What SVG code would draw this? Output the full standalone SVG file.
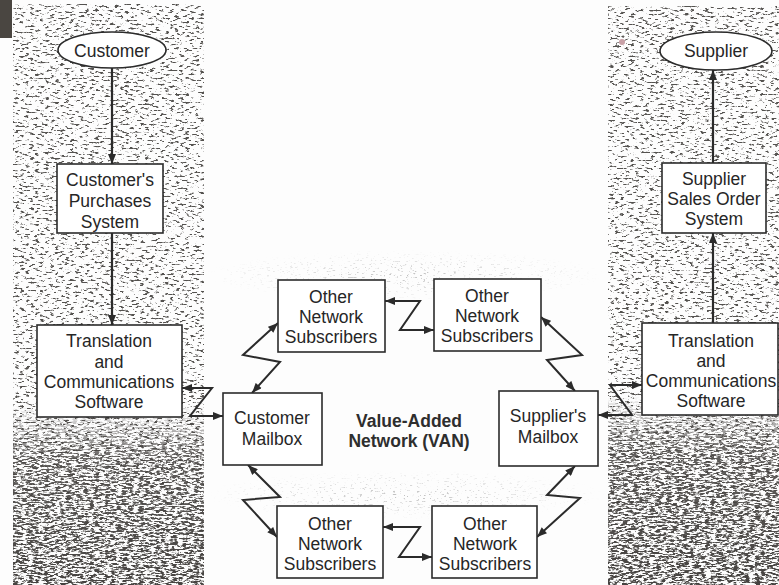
<svg xmlns="http://www.w3.org/2000/svg" width="779" height="585" viewBox="0 0 779 585">
  <defs>
    <style>
      .box { fill: #ffffff; stroke: #2b2b2b; stroke-width: 1.6; }
      .lbl { font-family: "Liberation Sans", Arial, sans-serif; font-size: 17.5px; fill: #262626; text-anchor: middle; }
      .van { font-family: "Liberation Sans", Arial, sans-serif; font-size: 17.5px; font-weight: bold; fill: #2e2e2e; text-anchor: middle; }
      .flow { fill: none; stroke: #2b2b2b; stroke-width: 2.2; marker-end: url(#head); }
      .link { fill: none; stroke: #2b2b2b; stroke-width: 2; stroke-linejoin: miter; marker-start: url(#head); marker-end: url(#head); }
    </style>
    <marker id="head" viewBox="0 0 10 8" refX="10" refY="4" markerWidth="11" markerHeight="8" markerUnits="userSpaceOnUse" orient="auto-start-reverse">
      <path d="M0,0 L10,4 L0,8 Z" fill="#2b2b2b"/>
    </marker>
    <!-- printed-paper speckle, light and heavy -->
    <filter id="grainLight" x="0" y="0" width="100%" height="100%" color-interpolation-filters="sRGB">
      <feTurbulence type="fractalNoise" baseFrequency="0.2 0.5" numOctaves="3" seed="7"/>
      <feColorMatrix type="matrix" values="0 0 0 0 0.33  0 0 0 0 0.32  0 0 0 0 0.31  -8 0 0 0 3.45"/>
      <feGaussianBlur stdDeviation="0.35"/>
    </filter>
    <filter id="grainDark" x="0" y="0" width="100%" height="100%" color-interpolation-filters="sRGB">
      <feTurbulence type="fractalNoise" baseFrequency="0.18 0.55" numOctaves="3" seed="11"/>
      <feColorMatrix type="matrix" values="0 0 0 0 0.27  0 0 0 0 0.26  0 0 0 0 0.25  -7 0 0 0 3.7"/>
      <feGaussianBlur stdDeviation="0.35"/>
    </filter>
    <filter id="grainFaint" x="0" y="0" width="100%" height="100%" color-interpolation-filters="sRGB">
      <feTurbulence type="fractalNoise" baseFrequency="0.3 0.7" numOctaves="2" seed="4"/>
      <feColorMatrix type="matrix" values="0 0 0 0 0.5  0 0 0 0 0.5  0 0 0 0 0.5  -8 0 0 0 3.0"/>
    </filter>
    <linearGradient id="fadeIn" x1="0" y1="0" x2="0" y2="1">
      <stop offset="0" stop-color="#fff" stop-opacity="0"/>
      <stop offset="0.3" stop-color="#fff" stop-opacity="0.85"/>
      <stop offset="1" stop-color="#fff" stop-opacity="1"/>
    </linearGradient>
    <radialGradient id="soft">
      <stop offset="0" stop-color="#fff" stop-opacity="1"/>
      <stop offset="1" stop-color="#fff" stop-opacity="0"/>
    </radialGradient>
    <mask id="leftLow" maskUnits="userSpaceOnUse" x="0" y="0" width="779" height="585">
      <rect x="13" y="405" width="191" height="180" fill="url(#fadeIn)"/>
    </mask>
    <mask id="rightLow" maskUnits="userSpaceOnUse" x="0" y="0" width="779" height="585">
      <rect x="608" y="395" width="171" height="190" fill="url(#fadeIn)"/>
    </mask>
    <mask id="midBands" maskUnits="userSpaceOnUse" x="0" y="0" width="779" height="585">
      <ellipse cx="405" cy="275" rx="200" ry="25" fill="url(#soft)"/>
      <ellipse cx="405" cy="495" rx="200" ry="25" fill="url(#soft)"/>
    </mask>
  </defs>

  <!-- paper -->
  <rect x="0" y="0" width="779" height="585" fill="#fdfdfd"/>

  <!-- shaded side columns -->
  <g id="shading">
    <rect x="0" y="0" width="12" height="38" fill="#4a4641"/>
    <rect x="13" y="4" width="191" height="581" fill="#fff" filter="url(#grainLight)"/>
    <rect x="13" y="405" width="191" height="180" fill="#fff" filter="url(#grainDark)" mask="url(#leftLow)"/>
    <rect x="608" y="6" width="171" height="579" fill="#fff" filter="url(#grainLight)"/>
    <rect x="608" y="395" width="171" height="190" fill="#fff" filter="url(#grainDark)" mask="url(#rightLow)"/>
    <rect x="205" y="245" width="400" height="280" fill="#fff" filter="url(#grainFaint)" mask="url(#midBands)" opacity="0.5"/>
    <circle cx="622" cy="42" r="3" fill="#c8a0a6"/>
  </g>

  <!-- connectors -->
  <g id="connectors">
    <path class="flow" d="M112,68 L112,164"/>
    <path class="flow" d="M112,233 L112,325"/>
    <path class="flow" d="M713,163 L713,70"/>
    <path class="flow" d="M713,323 L713,233"/>
    <path class="link" d="M182,388 L212,388 L190,416 L223,416"/>
    <path class="link" d="M252,393 L280,362 L243,355 L278,323"/>
    <path class="link" d="M385,301 L420,301 L400,330 L434,330"/>
    <path class="link" d="M541,317 L582,355 L547,360 L575,391"/>
    <path class="link" d="M598,415 L632,415 L610,385 L642,385"/>
    <path class="link" d="M248,465 L280,497 L243,500 L277,537"/>
    <path class="link" d="M383,527 L420,527 L399,557 L432,557"/>
    <path class="link" d="M537,537 L580,498 L547,495 L575,466"/>
  </g>

  <g id="customer">
    <ellipse class="box" cx="112" cy="50" rx="54" ry="18"/>
    <text class="lbl" x="112" y="57">Customer</text>
  </g>

  <g id="customer-purchases">
    <rect class="box" x="57" y="164" width="106" height="69"/>
    <text class="lbl" x="110" y="186">Customer's</text>
    <text class="lbl" x="110" y="207">Purchases</text>
    <text class="lbl" x="110" y="228">System</text>
  </g>

  <g id="customer-translation">
    <rect class="box" x="37" y="325" width="145" height="92"/>
    <text class="lbl" x="109" y="347">Translation</text>
    <text class="lbl" x="109" y="368">and</text>
    <text class="lbl" x="109" y="388">Communications</text>
    <text class="lbl" x="109" y="408">Software</text>
  </g>

  <g id="customer-mailbox">
    <rect class="box" x="223" y="393" width="99" height="72"/>
    <text class="lbl" x="272" y="424">Customer</text>
    <text class="lbl" x="272" y="445">Mailbox</text>
  </g>

  <g id="van-label">
    <text class="van" x="409" y="427">Value-Added</text>
    <text class="van" x="409" y="447">Network (VAN)</text>
  </g>

  <g id="subscribers-top-left">
    <rect class="box" x="278" y="280" width="107" height="72"/>
    <text class="lbl" x="331" y="303">Other</text>
    <text class="lbl" x="331" y="323">Network</text>
    <text class="lbl" x="331" y="343">Subscribers</text>
  </g>

  <g id="subscribers-top-right">
    <rect class="box" x="434" y="279" width="107" height="72"/>
    <text class="lbl" x="487" y="302">Other</text>
    <text class="lbl" x="487" y="322">Network</text>
    <text class="lbl" x="487" y="342">Subscribers</text>
  </g>

  <g id="subscribers-bottom-left">
    <rect class="box" x="277" y="506" width="106" height="72"/>
    <text class="lbl" x="330" y="530">Other</text>
    <text class="lbl" x="330" y="550">Network</text>
    <text class="lbl" x="330" y="570">Subscribers</text>
  </g>

  <g id="subscribers-bottom-right">
    <rect class="box" x="432" y="506" width="105" height="72"/>
    <text class="lbl" x="485" y="530">Other</text>
    <text class="lbl" x="485" y="550">Network</text>
    <text class="lbl" x="485" y="570">Subscribers</text>
  </g>

  <g id="supplier-mailbox">
    <rect class="box" x="499" y="391" width="99" height="75"/>
    <text class="lbl" x="548" y="422">Supplier's</text>
    <text class="lbl" x="548" y="443">Mailbox</text>
  </g>

  <g id="supplier-translation">
    <rect class="box" x="642" y="323" width="136" height="92"/>
    <text class="lbl" x="711" y="347">Translation</text>
    <text class="lbl" x="711" y="367">and</text>
    <text class="lbl" x="711" y="387">Communications</text>
    <text class="lbl" x="711" y="407">Software</text>
  </g>

  <g id="supplier-sales">
    <rect class="box" x="662" y="163" width="104" height="70"/>
    <text class="lbl" x="714" y="185">Supplier</text>
    <text class="lbl" x="714" y="205">Sales Order</text>
    <text class="lbl" x="714" y="225">System</text>
  </g>

  <g id="supplier">
    <ellipse class="box" cx="716" cy="51" rx="56" ry="19"/>
    <text class="lbl" x="716" y="57">Supplier</text>
  </g>
</svg>
